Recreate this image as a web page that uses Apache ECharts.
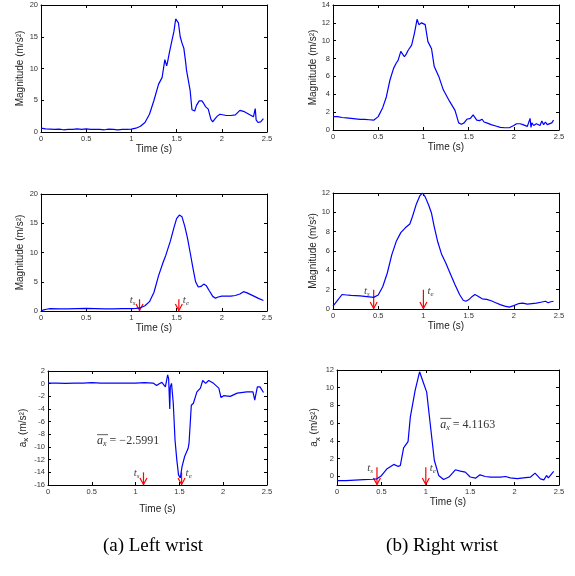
<!DOCTYPE html>
<html>
<head>
<meta charset="utf-8">
<script src="https://cdn.jsdelivr.net/npm/echarts@6/dist/echarts.min.js"></script>
<style>html,body{margin:0;padding:0;background:#fff}#c{width:575px;height:576px}</style>
</head>
<body>
<div id="c"></div>
<script>
// ---------- DATA ----------
const xTicks = [0, 0.5, 1, 1.5, 2, 2.5];
// (a) left wrist, raw magnitude
const t1 = [0,0.05,0.1,0.15,0.2,0.25,0.3,0.35,0.4,0.45,0.5,0.55,0.6,0.65,0.7,0.75,0.8,0.85,0.9,0.95,1.0,1.05,1.1,1.15,1.2,1.25,1.3,1.34,1.36,1.37,1.385,1.39,1.4,1.42,1.45,1.47,1.49,1.5,1.52,1.54,1.56,1.58,1.6,1.61,1.62,1.63,1.65,1.67,1.7,1.72,1.75,1.78,1.8,1.82,1.85,1.88,1.9,1.92,1.95,1.97,1.98,2.0,2.05,2.1,2.15,2.2,2.25,2.3,2.35,2.36,2.37,2.38,2.4,2.43,2.46];
const v1 = [0.6,0.5,0.45,0.4,0.45,0.35,0.4,0.4,0.5,0.4,0.5,0.4,0.4,0.4,0.35,0.45,0.4,0.35,0.4,0.4,0.45,0.6,0.9,1.5,2.8,5.0,7.5,8.6,8.7,11.4,11.5,10.4,11.0,12.5,14.5,15.8,17.8,18.0,17.2,15.0,14.0,13.2,11.0,9.7,10.0,9.5,6.5,3.5,3.3,4.2,4.9,4.9,4.5,4.0,3.6,2.0,1.6,2.0,2.5,2.5,2.8,2.5,2.6,2.6,2.7,3.4,3.2,2.8,2.4,2.2,3.7,1.9,1.5,1.6,2.1];
// (b) right wrist, raw magnitude
const t2 = [0,0.05,0.1,0.15,0.2,0.22,0.25,0.3,0.35,0.4,0.45,0.5,0.55,0.59,0.63,0.67,0.7,0.72,0.75,0.77,0.79,0.81,0.83,0.87,0.9,0.93,0.95,0.98,1.02,1.05,1.09,1.12,1.17,1.22,1.29,1.35,1.39,1.42,1.45,1.48,1.52,1.55,1.57,1.59,1.62,1.65,1.67,1.7,1.75,1.8,1.85,1.9,1.95,2.0,2.03,2.07,2.1,2.15,2.17,2.18,2.19,2.2,2.22,2.25,2.27,2.29,2.31,2.33,2.35,2.37,2.39,2.42,2.44];
const v2 = [1.5,1.5,1.4,1.35,1.3,1.4,1.25,1.2,1.2,1.15,1.1,1.5,2.5,3.7,5.6,6.9,7.5,7.8,8.8,8.5,8.2,8.5,8.9,9.5,10.8,12.4,11.8,12.0,11.8,9.9,9.1,7.1,6.0,4.5,3.2,2.2,0.8,0.65,0.8,1.2,1.3,1.7,1.6,1.1,1.05,1.2,0.9,0.8,0.6,0.45,0.3,0.25,0.25,0.5,0.7,0.7,0.6,0.4,0.35,1.3,0.3,0.8,0.5,0.7,0.9,0.5,1.0,0.6,0.9,0.6,0.4,0.8,1.1];
// (a) left wrist, smoothed magnitude
const t3 = [0,0.03,0.06,0.1,0.2,0.3,0.4,0.5,0.6,0.7,0.8,0.9,1.0,1.05,1.1,1.15,1.2,1.25,1.3,1.35,1.38,1.43,1.47,1.5,1.53,1.56,1.59,1.62,1.65,1.68,1.71,1.74,1.77,1.8,1.83,1.86,1.9,1.93,1.96,2.0,2.05,2.1,2.15,2.2,2.24,2.28,2.32,2.36,2.4,2.46];
const v3 = [0,0.2,0.3,0.4,0.35,0.35,0.4,0.45,0.4,0.35,0.35,0.4,0.4,0.45,0.55,0.9,1.6,3.2,6.0,8.3,9.5,11.9,14.2,15.8,16.4,16.1,14.5,12.5,10.0,7.4,5.0,4.1,4.2,4.6,4.3,3.5,2.5,2.2,2.4,2.55,2.55,2.55,2.65,2.9,3.3,3.1,2.8,2.5,2.2,1.8];
// (b) right wrist, smoothed magnitude
const t4 = [0,0.05,0.1,0.15,0.2,0.3,0.4,0.45,0.5,0.55,0.6,0.65,0.7,0.75,0.8,0.85,0.88,0.92,0.96,0.99,1.02,1.06,1.09,1.12,1.16,1.2,1.25,1.3,1.35,1.4,1.44,1.47,1.5,1.54,1.57,1.6,1.65,1.7,1.75,1.8,1.85,1.9,1.95,2.0,2.05,2.1,2.15,2.2,2.25,2.3,2.35,2.38,2.41,2.44];
const v4 = [0.3,0.9,1.5,1.45,1.4,1.35,1.25,1.2,1.45,2.3,3.7,5.6,7.0,7.9,8.4,8.8,9.6,10.8,11.7,12.0,11.6,10.7,9.9,8.5,6.9,5.7,4.7,3.6,2.5,1.5,0.9,0.8,0.95,1.3,1.5,1.35,1.05,1.0,0.85,0.65,0.45,0.3,0.2,0.35,0.55,0.6,0.5,0.55,0.6,0.7,0.8,0.65,0.75,0.8];
// (a) left wrist, a_x
const t5 = [0,0.1,0.2,0.3,0.4,0.5,0.6,0.7,0.8,0.9,1.0,1.1,1.2,1.24,1.27,1.3,1.34,1.366,1.377,1.39,1.396,1.41,1.42,1.43,1.45,1.47,1.49,1.51,1.53,1.56,1.6,1.61,1.625,1.636,1.66,1.7,1.74,1.766,1.8,1.834,1.89,1.95,1.975,2.005,2.08,2.16,2.27,2.34,2.36,2.39,2.42,2.46];
const v5 = [0.1,0.1,0.05,0.1,0.1,0.15,0.1,0.1,0.1,0.1,0.1,0.15,0.1,-0.3,0.0,0.2,-0.5,1.4,0.8,-4.0,-0.5,0.05,-0.2,-3.1,-8.9,-12.0,-14.4,-14.9,-13.1,-11.5,-10.2,-9.4,-9.7,-3.4,-3.1,-1.3,-0.7,0.5,0.05,0.5,0.05,-0.7,-2.2,-1.9,-2.0,-1.5,-1.3,-1.3,-2.6,-0.5,-0.5,-1.4];
// (b) right wrist, a_x
const t6 = [0,0.1,0.2,0.3,0.4,0.45,0.5,0.56,0.64,0.69,0.713,0.75,0.8,0.826,0.88,0.93,0.968,1.01,1.05,1.096,1.145,1.2,1.26,1.333,1.39,1.445,1.5,1.56,1.61,1.67,1.73,1.84,1.9,1.95,2.03,2.1,2.18,2.23,2.29,2.33,2.36,2.38,2.44];
const v6 = [-0.5,-0.5,-0.45,-0.4,-0.35,-0.3,0.05,0.8,1.33,1.1,1.2,3.2,3.9,6.7,9.7,11.8,10.7,9.5,5.9,1.8,0.08,-0.38,-0.1,0.72,0.57,0.45,-0.1,-0.23,0.15,-0.04,-0.1,-0.1,-0.04,-0.19,-0.27,-0.19,-0.1,0.34,-0.3,-0.42,0.08,-0.19,0.53];
// start / end markers (time, arrow top, arrow bottom)
const tsLeft = 1.09, teLeft = 1.525;
const tsRight = 0.45, teRight = 1.0;
const arrowTop = [2, 2, -14, 1];
const arrowBottom = [0, 0, -16, -1];
// mean a_x annotations
const meanLeft = '−2.5991', meanRight = '4.1163';
const meanPosLeft = [0.56, -9.0], meanPosRight = [1.163, 5.85];
const yTicks6 = [0, 2, 4, 6, 8, 10, 12];
const captions = ['(a) Left wrist', '(b) Right wrist'];

// ---------- LAYOUT ----------
const SANS = 'Liberation Sans, Arial, sans-serif';
const SERIF = 'Liberation Serif, Times New Roman, serif';
const panels = [
  {g:{left:41, top:5, width:226, height:127}, ymin:0, ymax:20, yint:5, name:'{n|Magnitude (m/s²)}', xgap:10, ygap:13, t:t1, v:v1},
  {g:{left:333, top:5, width:226, height:125}, ymin:0, ymax:14, yint:2, name:'{n|Magnitude (m/s²)}', xgap:10, ygap:12, t:t2, v:v2},
  {g:{left:41, top:194, width:226, height:117}, ymin:0, ymax:20, yint:5, name:'{n|Magnitude (m/s²)}', xgap:10, ygap:13, t:t3, v:v3},
  {g:{left:333, top:193, width:226, height:116}, ymin:0, ymax:12, yint:2, name:'{n|Magnitude (m/s²)}', xgap:10, ygap:11, t:t4, v:v4},
  {g:{left:48, top:371, width:219, height:114}, ymin:-16, ymax:2, yint:2, name:'{n|a}{sub|x}{n| (m/s²)}', xgap:19, ygap:16, t:t5, v:v5},
  {g:{left:337, top:370, width:222, height:115}, ymin:-1, ymax:12, yint:2, name:'{n|a}{sub|x}{n| (m/s²)}', xgap:11, ygap:13, t:t6, v:v6, custom:yTicks6}
];

const grid = [], xAxis = [], yAxis = [], series = [];
const tickCol = '#333';
panels.forEach((p, i) => {
  grid.push(Object.assign({containLabel:false}, p.g));
  const common = {type:'value', gridIndex:i, axisLine:{show:true, onZero:false, lineStyle:{color:'#000', width:1}},
                  axisTick:{show:true, inside:true, length:3, lineStyle:{color:'#000'}}, splitLine:{show:false}};
  xAxis.push(Object.assign({}, common, {position:'bottom', min:0, max:2.5, interval:0.5,
    axisLabel:{show:true, fontSize:7.5, color:tickCol, fontFamily:SANS, margin:3, formatter:v=>String(v)},
    name:'Time (s)', nameLocation:'middle', nameGap:p.xgap, nameTextStyle:{fontSize:10, color:'#222', fontFamily:SANS}}));
  xAxis.push(Object.assign({}, common, {position:'top', min:0, max:2.5, interval:0.5, axisLabel:{show:false}}));
  const yl = Object.assign({}, common, {position:'left', min:p.ymin, max:p.ymax,
    axisLabel:{show:true, fontSize:7.5, color:tickCol, fontFamily:SANS, margin:3},
    name:p.name, nameLocation:'middle', nameGap:p.ygap,
    nameTextStyle:{fontSize:10, color:'#222', fontFamily:SANS, rich:{
      n:{fontSize:10, color:'#222', fontFamily:SANS, lineHeight:15, verticalAlign:'middle'},
      sub:{fontSize:8, color:'#222', fontFamily:SANS, verticalAlign:'bottom', lineHeight:6}}}});
  const yr = Object.assign({}, common, {position:'right', min:p.ymin, max:p.ymax, axisLabel:{show:false}});
  if (p.custom) {
    yl.axisLabel.customValues = p.custom; yl.axisTick = Object.assign({}, common.axisTick, {customValues:p.custom});
    yr.axisTick = Object.assign({}, common.axisTick, {customValues:p.custom});
  } else { yl.interval = p.yint; yr.interval = p.yint; }
  yAxis.push(yl); yAxis.push(yr);
  series.push({type:'line', xAxisIndex:2*i, yAxisIndex:2*i, showSymbol:false, symbol:'none',
    lineStyle:{color:'#0000ff', width:1.2}, data:p.t.map((t, k) => [t, p.v[k]]), animation:false, silent:true});
});

// arrows for t_s / t_e
function arrowRender(params, api) {
  const t = api.value(0), y1 = api.value(1), y2 = api.value(2), k = api.value(3);
  const p1 = api.coord([t, y1]), p2 = api.coord([t, y2]);
  const red = '#ff0000', hw = 3.5, hh = 7;
  const rich = {
    t:{fontFamily:SERIF, fontStyle:'italic', fontSize:11, fill:'#444', lineHeight:13},
    s:{fontFamily:SERIF, fontStyle:'italic', fontSize:7, fill:'#444', verticalAlign:'bottom', lineHeight:7}
  };
  const label = k === 0
    ? {type:'text', x:p1[0]-4, y:p1[1]+1, style:{text:'{t|t}{s|s}', rich, align:'right', verticalAlign:'middle'}}
    : {type:'text', x:p1[0]+4, y:p1[1]+1, style:{text:'{t|t}{s|e}', rich, align:'left', verticalAlign:'middle'}};
  return {type:'group', children:[
    {type:'line', shape:{x1:p1[0], y1:p1[1], x2:p2[0], y2:p2[1]-0.5}, style:{stroke:red, lineWidth:1.2}},
    {type:'polyline', shape:{points:[[p2[0]-hw, p2[1]-hh], [p2[0], p2[1]-0.5], [p2[0]+hw, p2[1]-hh]]}, style:{stroke:red, lineWidth:1.2, fill:null}},
    label
  ]};
}
const markTimes = [[tsLeft, teLeft], [tsRight, teRight], [tsLeft, teLeft], [tsRight, teRight]];
[2, 3, 4, 5].forEach((pi, j) => {
  const [ts, te] = markTimes[j];
  series.push({type:'custom', xAxisIndex:2*pi, yAxisIndex:2*pi, clip:false, silent:true, animation:false,
    renderItem:arrowRender, data:[[ts, arrowTop[j], arrowBottom[j], 0], [te, arrowTop[j], arrowBottom[j], 1]]});
});

// mean annotations with overline
function meanRender(text) {
  return function (params, api) {
    const p = api.coord([api.value(0), api.value(1)]);
    return {type:'group', children:[
      {type:'text', x:p[0], y:p[1], style:{text:'{a|a}{x|x}{r| = ' + text + '}', align:'left', verticalAlign:'middle',
        rich:{a:{fontFamily:SERIF, fontStyle:'italic', fontSize:12, fill:'#333', lineHeight:14},
              x:{fontFamily:SERIF, fontStyle:'italic', fontSize:8, fill:'#333', verticalAlign:'bottom', lineHeight:8},
              r:{fontFamily:SERIF, fontSize:12, fill:'#333', lineHeight:14}}}},
      {type:'line', shape:{x1:p[0], y1:p[1]-6, x2:p[0]+11, y2:p[1]-6}, style:{stroke:'#333', lineWidth:0.8}}
    ]};
  };
}
series.push({type:'custom', xAxisIndex:8, yAxisIndex:8, clip:false, silent:true, animation:false,
  renderItem:meanRender(meanLeft), data:[meanPosLeft]});
series.push({type:'custom', xAxisIndex:10, yAxisIndex:10, clip:false, silent:true, animation:false,
  renderItem:meanRender(meanRight), data:[meanPosRight]});

const chart = echarts.init(document.getElementById('c'), null, {renderer:'canvas'});
chart.setOption({
  animation:false,
  backgroundColor:'#fff',
  grid, xAxis, yAxis, series,
  graphic:[
    {type:'text', x:153, y:546, style:{text:captions[0], font:'19px ' + SERIF, fill:'#000', align:'center', verticalAlign:'middle'}},
    {type:'text', x:442, y:546, style:{text:captions[1], font:'19px ' + SERIF, fill:'#000', align:'center', verticalAlign:'middle'}}
  ]
});
</script>
</body>
</html>
